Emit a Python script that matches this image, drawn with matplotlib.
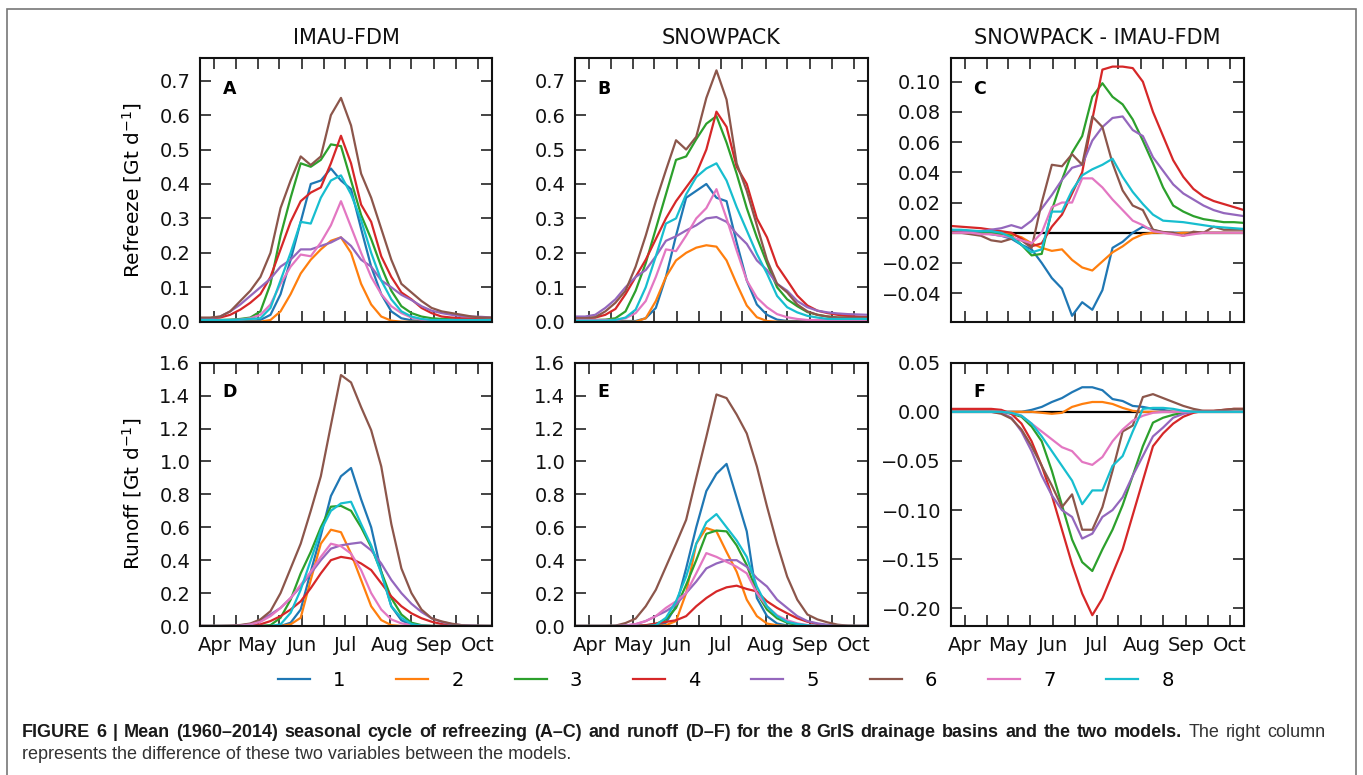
import matplotlib
matplotlib.use('Agg')
import matplotlib.pyplot as plt
from matplotlib.ticker import FixedLocator, MultipleLocator, NullFormatter
from matplotlib.patches import Rectangle

# ---------------- data ----------------
DAYS = [81, 88, 95, 102, 109, 116, 123, 130, 137, 144, 151, 158, 165, 172, 179,
        186, 193, 200, 207, 214, 221, 228, 235, 242, 249, 256, 263, 270, 277, 284]
MONTHS = ['Apr', 'May', 'Jun', 'Jul', 'Aug', 'Sep', 'Oct']
MONTH_DAYS = [91, 121, 152, 182, 213, 244, 274]
MID_DAYS = [106, 136, 167, 197, 228, 259]
BASINS = ['1', '2', '3', '4', '5', '6', '7', '8']
COLORS = ['#1f77b4', '#ff7f0e', '#2ca02c', '#d62728', '#9467bd', '#8c564b', '#e377c2', '#17becf']
COL_TITLES = ['IMAU-FDM', 'SNOWPACK', 'SNOWPACK - IMAU-FDM']

REFREEZE_IMAU = [
    [0.002, 0.002, 0.002, 0.002, 0.002, 0.002, 0.005, 0.02, 0.08, 0.18, 0.29, 0.40, 0.41, 0.445, 0.41,
     0.385, 0.27, 0.16, 0.08, 0.03, 0.01, 0.004, 0.002, 0.002, 0.002, 0.002, 0.002, 0.002, 0.002, 0.002],
    [0.0, 0.0, 0.0, 0.0, 0.0, 0.0, 0.0, 0.005, 0.03, 0.08, 0.14, 0.18, 0.21, 0.235, 0.245,
     0.2, 0.11, 0.05, 0.015, 0.003, 0.0, 0.0, 0.0, 0.0, 0.0, 0.0, 0.0, 0.0, 0.0, 0.0],
    [0.005, 0.005, 0.005, 0.006, 0.008, 0.012, 0.03, 0.11, 0.25, 0.36, 0.46, 0.45, 0.47, 0.515, 0.51,
     0.41, 0.31, 0.24, 0.16, 0.09, 0.045, 0.025, 0.015, 0.01, 0.008, 0.007, 0.006, 0.006, 0.005, 0.005],
    [0.01, 0.01, 0.012, 0.02, 0.035, 0.055, 0.08, 0.13, 0.21, 0.29, 0.35, 0.375, 0.39, 0.46, 0.54,
     0.46, 0.34, 0.29, 0.19, 0.13, 0.085, 0.065, 0.04, 0.025, 0.015, 0.012, 0.01, 0.01, 0.01, 0.01],
    [0.008, 0.01, 0.015, 0.03, 0.05, 0.075, 0.10, 0.125, 0.16, 0.18, 0.21, 0.21, 0.22, 0.23, 0.245,
     0.22, 0.18, 0.16, 0.12, 0.10, 0.078, 0.063, 0.045, 0.032, 0.025, 0.02, 0.016, 0.015, 0.014, 0.012],
    [0.012, 0.012, 0.015, 0.03, 0.06, 0.09, 0.13, 0.20, 0.33, 0.41, 0.48, 0.455, 0.48, 0.60, 0.65,
     0.57, 0.43, 0.36, 0.27, 0.18, 0.11, 0.085, 0.06, 0.04, 0.03, 0.025, 0.02, 0.015, 0.012, 0.012],
    [0.004, 0.004, 0.004, 0.005, 0.006, 0.01, 0.02, 0.05, 0.11, 0.16, 0.195, 0.19, 0.23, 0.28, 0.35,
     0.275, 0.2, 0.13, 0.08, 0.045, 0.025, 0.012, 0.006, 0.004, 0.004, 0.004, 0.004, 0.004, 0.004, 0.004],
    [0.005, 0.005, 0.005, 0.005, 0.006, 0.008, 0.01, 0.04, 0.12, 0.20, 0.29, 0.285, 0.36, 0.41, 0.425,
     0.37, 0.295, 0.2, 0.12, 0.065, 0.03, 0.015, 0.008, 0.005, 0.005, 0.005, 0.005, 0.005, 0.005, 0.005],
]

REFREEZE_SNOW = [
    [0.002, 0.002, 0.002, 0.002, 0.002, 0.002, 0.002, 0.01, 0.04, 0.13, 0.25, 0.36, 0.38, 0.40, 0.36,
     0.35, 0.23, 0.12, 0.05, 0.02, 0.006, 0.002, 0.002, 0.002, 0.002, 0.002, 0.002, 0.002, 0.002, 0.002],
    [0.0, 0.0, 0.0, 0.0, 0.0, 0.0, 0.0, 0.01, 0.06, 0.13, 0.178, 0.20, 0.215, 0.222, 0.218,
     0.178, 0.11, 0.047, 0.013, 0.002, 0.0, 0.0, 0.0, 0.0, 0.0, 0.0, 0.0, 0.0, 0.0, 0.0],
    [0.005, 0.005, 0.005, 0.006, 0.01, 0.03, 0.09, 0.17, 0.27, 0.37, 0.47, 0.48, 0.53, 0.575, 0.597,
     0.52, 0.43, 0.33, 0.245, 0.17, 0.10, 0.065, 0.045, 0.028, 0.02, 0.015, 0.012, 0.012, 0.012, 0.012],
    [0.01, 0.01, 0.012, 0.02, 0.037, 0.08, 0.13, 0.18, 0.24, 0.30, 0.35, 0.39, 0.43, 0.50, 0.61,
     0.566, 0.45, 0.40, 0.30, 0.245, 0.163, 0.12, 0.076, 0.047, 0.032, 0.025, 0.02, 0.017, 0.015, 0.013],
    [0.015, 0.015, 0.02, 0.04, 0.065, 0.10, 0.13, 0.15, 0.19, 0.235, 0.248, 0.265, 0.28, 0.30, 0.304,
     0.29, 0.255, 0.226, 0.178, 0.15, 0.11, 0.09, 0.06, 0.042, 0.032, 0.027, 0.024, 0.022, 0.021, 0.02],
    [0.01, 0.01, 0.013, 0.03, 0.055, 0.09, 0.16, 0.25, 0.35, 0.44, 0.527, 0.50, 0.537, 0.65, 0.73,
     0.645, 0.46, 0.38, 0.28, 0.18, 0.11, 0.085, 0.05, 0.03, 0.02, 0.015, 0.012, 0.012, 0.012, 0.012],
    [0.005, 0.005, 0.005, 0.005, 0.005, 0.01, 0.025, 0.06, 0.13, 0.21, 0.205, 0.25, 0.30, 0.33, 0.385,
     0.30, 0.207, 0.12, 0.07, 0.042, 0.022, 0.013, 0.008, 0.005, 0.005, 0.005, 0.005, 0.005, 0.005, 0.005],
    [0.003, 0.003, 0.003, 0.003, 0.005, 0.012, 0.035, 0.10, 0.19, 0.285, 0.30, 0.37, 0.42, 0.445, 0.46,
     0.41, 0.333, 0.265, 0.197, 0.14, 0.075, 0.042, 0.027, 0.017, 0.012, 0.008, 0.008, 0.008, 0.008, 0.008],
]

REFREEZE_DIFF = [
    [0.001, 0.0005, 0.0, 0.0, -0.001, -0.002, -0.004, -0.008, -0.011, -0.02, -0.03, -0.037, -0.055, -0.046, -0.051,
     -0.038, -0.01, -0.006, 0.0, 0.004, 0.002, 0.0, 0.0, 0.0, 0.0, 0.0, 0.0, 0.0, 0.0, 0.0],
    [0.0, 0.0, 0.0, 0.0, 0.0, 0.0, -0.001, -0.003, -0.007, -0.01, -0.012, -0.011, -0.018, -0.023, -0.025,
     -0.019, -0.013, -0.009, -0.004, -0.001, 0.0, 0.0, -0.0005, 0.0, 0.0, 0.0, 0.0, 0.0, 0.0, 0.0],
    [0.001, 0.001, 0.0005, 0.0, 0.0, -0.001, -0.002, -0.008, -0.015, -0.014, 0.015, 0.035, 0.053, 0.064, 0.09,
     0.099, 0.09, 0.085, 0.075, 0.061, 0.046, 0.03, 0.018, 0.014, 0.011, 0.009, 0.008, 0.007, 0.007, 0.0065],
    [0.0045, 0.004, 0.0035, 0.003, 0.002, 0.001, 0.0, -0.004, -0.009, -0.007, 0.004, 0.012, 0.026, 0.04, 0.075,
     0.108, 0.11, 0.11, 0.109, 0.1, 0.08, 0.064, 0.048, 0.037, 0.029, 0.024, 0.021, 0.019, 0.017, 0.015],
    [0.002, 0.001, 0.0005, 0.001, 0.002, 0.003, 0.005, 0.003, 0.008, 0.016, 0.025, 0.035, 0.043, 0.045, 0.061,
     0.07, 0.076, 0.077, 0.068, 0.064, 0.05, 0.041, 0.032, 0.026, 0.022, 0.018, 0.015, 0.013, 0.012, 0.011],
    [0.0005, 0.0, -0.001, -0.002, -0.005, -0.006, -0.004, -0.005, -0.01, 0.02, 0.045, 0.044, 0.052, 0.045, 0.077,
     0.07, 0.046, 0.028, 0.018, 0.015, 0.002, 0.0005, 0.0, -0.002, 0.0007, 0.0, 0.004, 0.002, 0.002, 0.002],
    [0.0, 0.0, 0.0, -0.001, -0.001, -0.002, -0.003, -0.005, -0.007, 0.0, 0.017, 0.02, 0.02, 0.036, 0.036,
     0.03, 0.022, 0.015, 0.008, 0.005, 0.001, 0.0, -0.001, -0.002, -0.001, 0.0, 0.0, 0.0, 0.0, 0.0],
    [0.002, 0.002, 0.0015, 0.001, 0.001, 0.0, -0.003, -0.008, -0.013, -0.011, 0.014, 0.014, 0.028, 0.038, 0.042,
     0.045, 0.049, 0.037, 0.027, 0.019, 0.012, 0.008, 0.0075, 0.007, 0.006, 0.005, 0.004, 0.0035, 0.003, 0.0025],
]

RUNOFF_IMAU = [
    [0.0, 0.0, 0.0, 0.0, 0.0, 0.0, 0.0, 0.0, 0.0, 0.02, 0.1, 0.33, 0.55, 0.79, 0.91,
     0.96, 0.77, 0.6, 0.33, 0.12, 0.035, 0.006, 0.0, 0.0, 0.0, 0.0, 0.0, 0.0, 0.0, 0.0],
    [0.0, 0.0, 0.0, 0.0, 0.0, 0.0, 0.0, 0.0, 0.0, 0.01, 0.05, 0.28, 0.50, 0.585, 0.57,
     0.44, 0.28, 0.12, 0.036, 0.005, 0.0, 0.0, 0.0, 0.0, 0.0, 0.0, 0.0, 0.0, 0.0, 0.0],
    [0.0, 0.0, 0.0, 0.0, 0.0, 0.0, 0.0, 0.005, 0.05, 0.16, 0.32, 0.45, 0.6, 0.725, 0.73,
     0.70, 0.6, 0.48, 0.33, 0.17, 0.07, 0.02, 0.005, 0.0, 0.0, 0.0, 0.0, 0.0, 0.0, 0.0],
    [0.0, 0.0, 0.0, 0.0, 0.0, 0.003, 0.01, 0.03, 0.06, 0.1, 0.15, 0.23, 0.32, 0.40, 0.42,
     0.41, 0.38, 0.34, 0.26, 0.18, 0.12, 0.077, 0.047, 0.026, 0.012, 0.004, 0.0, 0.0, 0.0, 0.0],
    [0.0, 0.0, 0.0, 0.0, 0.003, 0.012, 0.035, 0.07, 0.11, 0.17, 0.24, 0.32, 0.4, 0.47, 0.49,
     0.50, 0.508, 0.46, 0.38, 0.28, 0.2, 0.135, 0.085, 0.047, 0.025, 0.012, 0.005, 0.002, 0.0, 0.0],
    [0.0, 0.0, 0.0, 0.002, 0.006, 0.015, 0.04, 0.09, 0.2, 0.35, 0.5, 0.7, 0.91, 1.22, 1.525,
     1.48, 1.33, 1.19, 0.97, 0.62, 0.35, 0.2, 0.10, 0.047, 0.028, 0.014, 0.005, 0.002, 0.001, 0.0],
    [0.0, 0.0, 0.0, 0.0, 0.002, 0.01, 0.025, 0.06, 0.11, 0.17, 0.25, 0.33, 0.42, 0.50, 0.485,
     0.44, 0.34, 0.2, 0.1, 0.04, 0.016, 0.006, 0.002, 0.0, 0.0, 0.0, 0.0, 0.0, 0.0, 0.0],
    [0.0, 0.0, 0.0, 0.0, 0.0, 0.0, 0.0, 0.0, 0.01, 0.08, 0.22, 0.40, 0.58, 0.70, 0.745,
     0.755, 0.62, 0.49, 0.32, 0.12, 0.05, 0.012, 0.002, 0.0, 0.0, 0.0, 0.0, 0.0, 0.0, 0.0],
]

RUNOFF_SNOW = [
    [0.0, 0.0, 0.0, 0.0, 0.0, 0.0, 0.0, 0.0, 0.0, 0.02, 0.12, 0.35, 0.6, 0.82, 0.925,
     0.985, 0.78, 0.575, 0.17, 0.06, 0.015, 0.003, 0.0, 0.0, 0.0, 0.0, 0.0, 0.0, 0.0, 0.0],
    [0.0, 0.0, 0.0, 0.0, 0.0, 0.0, 0.0, 0.0, 0.0, 0.005, 0.03, 0.2, 0.5, 0.595, 0.575,
     0.45, 0.33, 0.16, 0.06, 0.015, 0.004, 0.0, 0.0, 0.0, 0.0, 0.0, 0.0, 0.0, 0.0, 0.0],
    [0.0, 0.0, 0.0, 0.0, 0.0, 0.0, 0.0, 0.003, 0.012, 0.04, 0.11, 0.25, 0.4, 0.56, 0.58,
     0.575, 0.49, 0.37, 0.2, 0.1, 0.047, 0.02, 0.006, 0.0, 0.0, 0.0, 0.0, 0.0, 0.0, 0.0],
    [0.0, 0.0, 0.0, 0.0, 0.0, 0.0, 0.001, 0.005, 0.015, 0.025, 0.035, 0.06, 0.12, 0.17, 0.21,
     0.235, 0.245, 0.225, 0.21, 0.15, 0.11, 0.077, 0.047, 0.026, 0.012, 0.004, 0.0, 0.0, 0.0, 0.0],
    [0.0, 0.0, 0.0, 0.0, 0.0, 0.003, 0.01, 0.03, 0.06, 0.09, 0.13, 0.2, 0.27, 0.35, 0.38,
     0.40, 0.40, 0.36, 0.29, 0.24, 0.16, 0.11, 0.06, 0.03, 0.016, 0.007, 0.002, 0.0, 0.0, 0.0],
    [0.0, 0.0, 0.0, 0.0, 0.002, 0.018, 0.045, 0.12, 0.22, 0.36, 0.5, 0.645, 0.9, 1.15, 1.407,
     1.385, 1.285, 1.17, 0.97, 0.727, 0.5, 0.3, 0.16, 0.07, 0.04, 0.022, 0.008, 0.002, 0.0, 0.0],
    [0.0, 0.0, 0.0, 0.0, 0.0, 0.003, 0.012, 0.03, 0.06, 0.11, 0.15, 0.2, 0.32, 0.443, 0.42,
     0.39, 0.36, 0.32, 0.2, 0.12, 0.065, 0.035, 0.016, 0.006, 0.0, 0.0, 0.0, 0.0, 0.0, 0.0],
    [0.0, 0.0, 0.0, 0.0, 0.0, 0.0, 0.0, 0.0, 0.005, 0.05, 0.15, 0.3, 0.5, 0.63, 0.68,
     0.6, 0.52, 0.42, 0.24, 0.12, 0.06, 0.025, 0.012, 0.004, 0.0, 0.0, 0.0, 0.0, 0.0, 0.0],
]

RUNOFF_DIFF = [
    [0.0, 0.0, 0.0, 0.0, 0.0, 0.0, 0.0, 0.0, 0.002, 0.005, 0.01, 0.014, 0.02, 0.025, 0.025,
     0.022, 0.013, 0.011, 0.006, 0.005, 0.003, 0.002, 0.0, 0.0, 0.0, 0.0, 0.0, 0.0, 0.0, 0.0],
    [0.0, 0.0, 0.0, 0.0, 0.0, 0.0, 0.0, 0.0, 0.0, -0.001, -0.002, -0.001, 0.005, 0.008, 0.01,
     0.01, 0.008, 0.004, 0.001, 0.0, 0.0, 0.0, 0.0, 0.0, 0.0, 0.0, 0.0, 0.0, 0.0, 0.0],
    [0.0, 0.0, 0.0, 0.0, 0.0, 0.0, -0.002, -0.005, -0.015, -0.03, -0.06, -0.095, -0.13, -0.153, -0.162,
     -0.14, -0.12, -0.095, -0.065, -0.035, -0.011, -0.006, -0.003, -0.001, 0.0, 0.0, 0.0, 0.0, 0.0, 0.0],
    [0.003, 0.003, 0.003, 0.003, 0.003, 0.002, -0.002, -0.012, -0.03, -0.055, -0.085, -0.12, -0.155, -0.185, -0.207,
     -0.19, -0.165, -0.14, -0.105, -0.07, -0.035, -0.022, -0.012, -0.005, -0.001, 0.001, 0.001, 0.002, 0.003, 0.003],
    [0.0, 0.0, 0.0, 0.0, 0.0, -0.001, -0.006, -0.02, -0.04, -0.065, -0.085, -0.1, -0.107, -0.129, -0.124,
     -0.107, -0.1, -0.087, -0.065, -0.045, -0.025, -0.016, -0.006, -0.002, 0.0, 0.0, 0.0, 0.0, 0.0, 0.0],
    [0.0, 0.0, 0.0, 0.0, 0.0, -0.002, -0.007, -0.018, -0.035, -0.055, -0.075, -0.097, -0.084, -0.12, -0.12,
     -0.097, -0.06, -0.02, -0.014, 0.015, 0.018, 0.014, 0.01, 0.006, 0.003, 0.001, 0.001, 0.002, 0.003, 0.003],
    [0.0, 0.0, 0.0, 0.0, 0.0, 0.0, -0.001, -0.004, -0.012, -0.02, -0.028, -0.036, -0.04, -0.051, -0.054,
     -0.046, -0.03, -0.018, -0.009, -0.004, -0.001, 0.0, 0.0, 0.0, 0.0, 0.0, 0.0, 0.0, 0.0, 0.0],
    [0.0, 0.0, 0.0, 0.0, 0.0, 0.0, -0.001, -0.004, -0.012, -0.025, -0.04, -0.055, -0.07, -0.094, -0.08,
     -0.08, -0.055, -0.045, -0.02, 0.003, 0.004, 0.004, 0.003, 0.001, 0.0, 0.0, 0.0, 0.0, 0.0, 0.0],
]

CAPTION_BOLD = ("FIGURE 6 | Mean (1960\u20132014) seasonal cycle of refreezing (A\u2013C) and runoff "
                "(D\u2013F) for the 8 GrIS drainage basins and the two models.")
CAPTION_REG1 = "The right column"
CAPTION_REG2 = "represents the difference of these two variables between the models."

# ---------------- layout ----------------
W, H = 1363, 775
fig = plt.figure(figsize=(W / 100, H / 100), dpi=100)

COLS_PX = [(200, 492), (575, 868), (950.7, 1244)]
ROWS_PX = [(58.3, 321.7), (362.7, 626)]

panels = [
    (0, 0, REFREEZE_IMAU, (0, 0.765), 0.1, 'A'),
    (0, 1, REFREEZE_SNOW, (0, 0.765), 0.1, 'B'),
    (0, 2, REFREEZE_DIFF, (-0.0589, 0.1155), 0.02, 'C'),
    (1, 0, RUNOFF_IMAU, (0, 1.6), 0.2, 'D'),
    (1, 1, RUNOFF_SNOW, (0, 1.6), 0.2, 'E'),
    (1, 2, RUNOFF_DIFF, (-0.218, 0.05), 0.05, 'F'),
]

handles = None
for r, c, data, ylim, ystep, letter in panels:
    x0, x1 = COLS_PX[c]
    y0, y1 = ROWS_PX[r]
    ax = fig.add_axes([x0 / W, 1 - y1 / H, (x1 - x0) / W, (y1 - y0) / H])
    if c == 2:
        ax.axhline(0, color='black', lw=1.6, zorder=1.5)
    lines = []
    for k, series in enumerate(data):
        ln, = ax.plot(DAYS, series, color=COLORS[k], lw=1.6, label=BASINS[k], zorder=2)
        lines.append(ln)
    if handles is None:
        handles = lines
    ax.set_xlim(DAYS[0], DAYS[-1])
    ax.set_ylim(*ylim)
    ax.xaxis.set_major_locator(FixedLocator(MONTH_DAYS))
    ax.xaxis.set_minor_locator(FixedLocator(MID_DAYS))
    ax.xaxis.set_minor_formatter(NullFormatter())
    if r == 1:
        ax.set_xticklabels(MONTHS)
    else:
        ax.set_xticklabels([])
    ax.yaxis.set_major_locator(MultipleLocator(ystep))
    ax.tick_params(which='both', direction='in', top=True, right=True,
                   length=8, width=1.1, labelsize=14, pad=7, colors='#111111')
    for sp in ax.spines.values():
        sp.set_linewidth(1.5)
        sp.set_color('#111111')
    ax.text(0.077, 0.865 if r == 0 else 0.871, letter, transform=ax.transAxes,
            fontsize=12.5, fontweight='bold', ha='left', va='baseline')

# column titles
for c, title in enumerate(COL_TITLES):
    x0, x1 = COLS_PX[c]
    fig.text((x0 + x1) / 2 / W, 1 - 44.3 / H, title, fontsize=15,
             ha='center', va='baseline', color='#111111')

# y labels
fig.text(131.7 / W, 1 - 190 / H, 'Refreeze [Gt d$^{-1}$]', rotation=90,
         fontsize=14.5, ha='center', va='center')
fig.text(131.7 / W, 1 - 494 / H, 'Runoff [Gt d$^{-1}$]', rotation=90,
         fontsize=14.5, ha='center', va='center')

# legend
fig.legend(handles, BASINS, ncol=8, loc='center', bbox_to_anchor=(726 / W, 1 - 680 / H),
           frameon=False, fontsize=14, handlelength=1.65, handletextpad=1.2,
           columnspacing=2.6)

# frame
fig.add_artist(Rectangle((7 / W, -0.1), (1355.7 - 7) / W, 1.1 - 9.3 / H,
                         transform=fig.transFigure, fill=False,
                         edgecolor='#777777', lw=1.2, clip_on=False))

# caption: first line justified between x=22 and x=1325 px
cap_font = ['Liberation Sans', 'DejaVu Sans']
renderer = fig.canvas.get_renderer()
words = [(w, 'bold', '#1a1a1a') for w in CAPTION_BOLD.split()] + \
        [(w, 'normal', '#333333') for w in CAPTION_REG1.split()]
texts = []
total = 0.0
for w, weight, col in words:
    t = fig.text(0, 1 - 737 / H, w, fontsize=13, fontweight=weight, family=cap_font,
                 ha='left', va='baseline', color=col)
    wpx = t.get_window_extent(renderer=renderer).width
    texts.append((t, wpx))
    total += wpx
x_left, x_right = 22.0, 1325.0
gap = (x_right - x_left - total) / (len(texts) - 1)
x = x_left
for t, wpx in texts:
    t.set_x(x / W)
    x += wpx + gap
fig.text(22 / W, 1 - 759 / H, CAPTION_REG2, fontsize=13,
         family=cap_font, ha='left', va='baseline', color='#333333')

fig.savefig('out.png', dpi=100)
